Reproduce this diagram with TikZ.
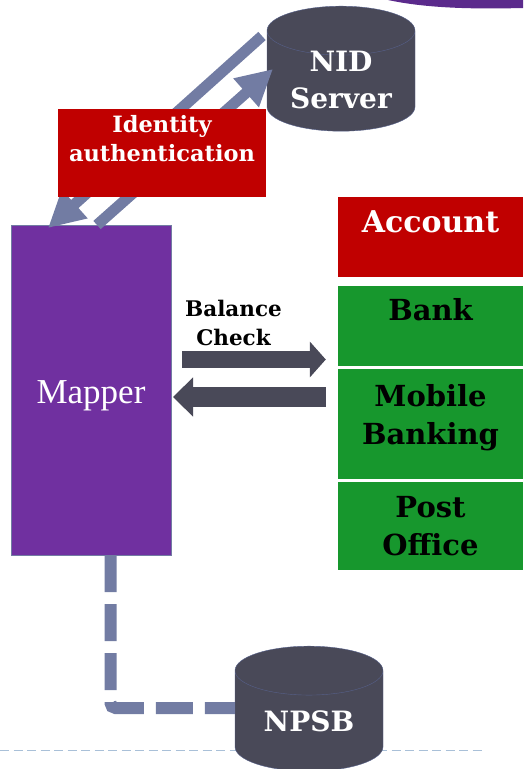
\documentclass[tikz,border=0pt]{standalone}
\usepackage{fontspec}
\usetikzlibrary{positioning,shapes.geometric,arrows.meta}
\newfontfamily\slabfont{DejaVu Serif}
\newfontfamily\plainfont{Liberation Serif}
\definecolor{slate}{HTML}{494958}
\definecolor{slateline}{HTML}{56608A}
\definecolor{steel}{HTML}{727CA3}
\definecolor{paleblue}{HTML}{A9C0D8}
\definecolor{boxred}{HTML}{C00000}
\definecolor{boxgreen}{HTML}{17972D}
\definecolor{boxpurple}{HTML}{7030A0}
\definecolor{swoosh}{HTML}{5B2A8C}
\tikzset{
	store/.style={cylinder, shape border rotate=90, draw=slateline, fill=slate, text=white,
		minimum width=148pt, minimum height=125pt, aspect=0.54, inner sep=0pt, align=center,
		font=\slabfont\bfseries\fontsize{28}{37}\selectfont},
	redbox/.style={fill=boxred, text=white, inner sep=0pt, align=center},
	accbox/.style={fill=boxgreen, minimum width=185pt, inner sep=0pt, align=center,
		font=\slabfont\bfseries\fontsize{29}{38}\selectfont},
	thinflow/.style={line width=11pt, draw=steel, -{Triangle[length=36pt,width=36pt]}},
}
\begin{document}
\begin{tikzpicture}[x=1pt,y=-1pt]
	\useasboundingbox (0,0) rectangle (523,769);
	\fill [swoosh] (388,0) .. controls (430,9) and (480,9) .. (523,8) -- (523,0) -- cycle;
	\draw [paleblue, line width=1.5pt, dash pattern=on 9pt off 4.5pt] (0,750.5) -- (483,750.5);
	\node (Mapper) [fill=boxpurple, draw=steel, minimum width=160pt, minimum height=330pt, inner sep=0pt,
		outer sep=0pt, text=white, text height=35pt, font=\plainfont\fontsize{35}{40}\selectfont] at (91,390) {Mapper};
	\node (NID) [store] at (341,81) {\phantom{NPSB}};
	\node (NIDtext) [text=white, align=center, inner sep=0pt, font=\slabfont\bfseries\fontsize{28}{37}\selectfont]
		at (341,80) {NID\\Server};
	\node (NPSB) [store] at (309,721) {NPSB};
	\draw [thinflow] ([xshift=-79pt,yshift=45pt]NID.center) to ([xshift=-43pt,yshift=-3pt]Mapper.north);
	\draw [thinflow] ([xshift=6pt]Mapper.north) to ([xshift=-68pt,yshift=12pt]NID.center);
	\draw [steel, line width=12pt, dash pattern=on 37pt off 12pt, rounded corners=5pt]
		([xshift=19.5pt]Mapper.south) |- ([yshift=13pt]NPSB.west);
	\node (Identity) [redbox, minimum width=208pt, minimum height=88pt, text depth=30pt,
		font=\slabfont\bfseries\fontsize{22.5}{29}\selectfont] at (162,153) {Identity\\authentication};
	\node (Account) [redbox, minimum width=185pt, minimum height=80pt, text depth=30pt,
		font=\slabfont\bfseries\fontsize{30}{38}\selectfont] at (430.5,237) {Account};
	\node (Bank) [accbox, below=9pt of Account, minimum height=80pt, text depth=33pt] {Bank};
	\node (Mobile) [accbox, below=2.5pt of Bank, minimum height=110pt, text depth=19pt] {Mobile\\Banking};
	\node (Post) [accbox, below=2.5pt of Mobile, minimum height=88pt] {Post\\Office};
	\node (Balance) [align=center, inner sep=0pt, font=\slabfont\bfseries\fontsize{21.5}{29}\selectfont]
		at (233.5,323) {Balance\\Check};
	\draw [slate, line width=17pt, -{Triangle[length=16pt,width=35pt]}, shorten <=11pt, shorten >=12pt]
		([yshift=30.5pt]Mapper.east) to ([yshift=30.5pt]Mapper.east -| Bank.west);
	\draw [slate, line width=20pt, -{Triangle[length=20pt,width=38pt]}, shorten <=12pt, shorten >=2pt]
		([yshift=-7pt]Mapper.east -| Mobile.west) to ([yshift=-7pt]Mapper.east);
\end{tikzpicture}
\end{document}
